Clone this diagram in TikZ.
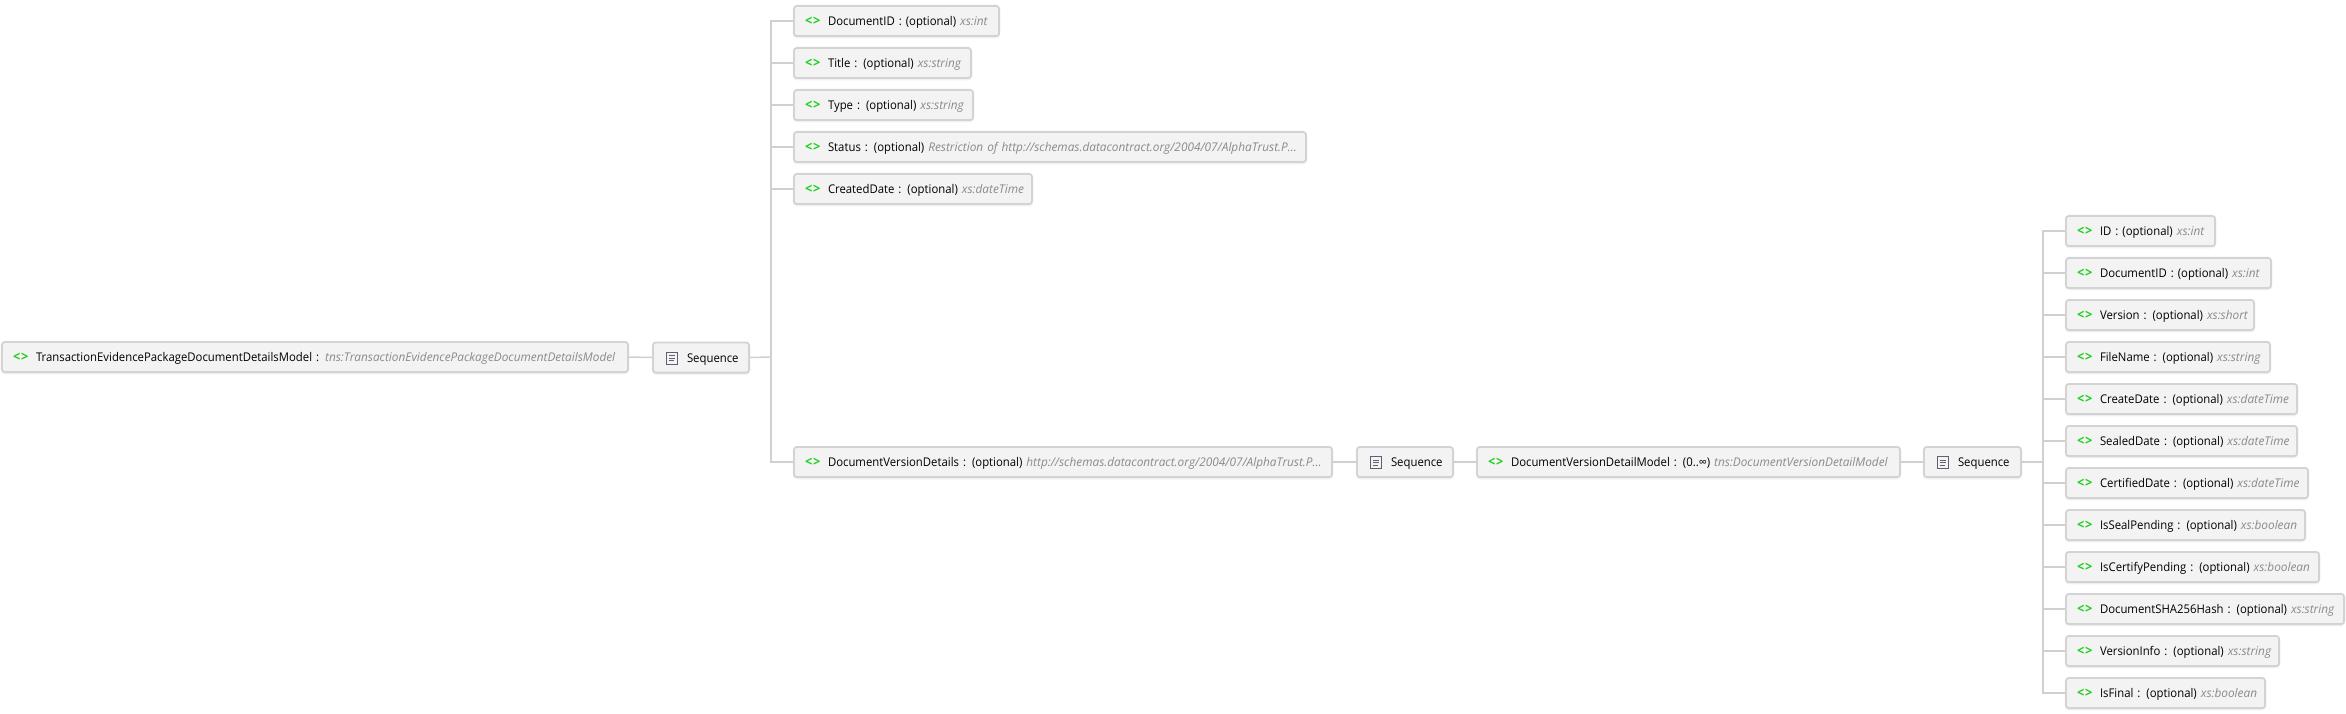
\documentclass[tikz,border=0pt]{standalone}
\usepackage{fontspec}
\setmainfont{Open Sans}[FakeStretch=0.945,WordSpace=0.75]
\newfontfamily\typefont{Open Sans}[FakeStretch=0.985,WordSpace=0.85,ItalicFeatures={FakeStretch=0.985,WordSpace=0.85}]
\usetikzlibrary{calc}
\definecolor{boxfill}{HTML}{F3F3F3}
\definecolor{boxline}{HTML}{D3D3D3}
\definecolor{conncol}{HTML}{D0D0D0}
\definecolor{icongreen}{HTML}{1ED01E}
\definecolor{typegray}{HTML}{8A8A8A}
\definecolor{iconslate}{HTML}{5F6070}
\tikzset{
  conn/.style={draw=conncol,line width=1.5pt},
  boxnode/.style={draw=boxline,fill=boxfill,line width=1.8pt,rounded corners=3pt,anchor=west,
    minimum height=30.2pt,inner xsep=11.1pt,inner ysep=0pt,align=left,
    text width=#1pt-24pt,text height=10.5pt,text depth=1.5pt,font=\fontsize{12}{14}\selectfont,
    preaction={draw=black!5,line width=2pt,transform canvas={yshift=-1.2pt}}},
  seqicon/.style={draw=iconslate,fill=boxfill,line width=0.9pt}
}
\newcommand{\icn}{\makebox[23pt][l]{\textcolor{icongreen}{\fontsize{13.5}{14}\selectfont\bfseries <\kern0.8pt>}}}
\newcommand{\eltext}[3]{\hbox{\icn #1 #2 \textcolor{typegray}{\typefont\itshape #3}}}
\newcommand{\rootext}[2]{\hbox{\icn #1 \textcolor{typegray}{\typefont\itshape #2}}}
\newcommand{\seqtext}{\hbox{\hspace{23pt}Sequence}}
\newcommand{\seqmark}[1]{%
  \draw[seqicon] ($(#1.west)+(14,-5.5)$) rectangle ($(#1.west)+(25.5,6.5)$);
  \draw[iconslate,line width=0.8pt] ($(#1.west)+(16.5,-2)$) -- ($(#1.west)+(23,-2)$)
    ($(#1.west)+(16.5,0.5)$) -- ($(#1.west)+(23,0.5)$) ($(#1.west)+(16.5,3)$) -- ($(#1.west)+(21.5,3)$);}
\begin{document}
\begin{tikzpicture}[x=1pt,y=-1pt]
\useasboundingbox (0,0) rectangle (2346,714);
% root
\node[boxnode=628] (root) at (1,357) {\rootext{TransactionEvidencePackageDocumentDetailsModel :}{tns:TransactionEvidencePackageDocumentDetailsModel}};
\node[boxnode=98] (seqa) at (652,357.5) {\seqtext};
% first level
\node[boxnode=207] (a1) at (793,21) {\eltext{DocumentID :}{(optional)}{xs:int}};
\node[boxnode=179] (a2) at (793,63) {\eltext{Title :}{(optional)}{xs:string}};
\node[boxnode=181] (a3) at (793,105) {\eltext{Type :}{(optional)}{xs:string}};
\node[boxnode=514] (a4) at (793,147) {\eltext{Status :}{(optional)}{Restriction of http://schemas.datacontract.org/2004/07/AlphaTrust.P...}};
\node[boxnode=240] (a5) at (793,189) {\eltext{CreatedDate :}{(optional)}{xs:dateTime}};
\node[boxnode=540] (a6) at (793,462) {\eltext{DocumentVersionDetails :}{(optional)}{http://schemas.datacontract.org/2004/07/AlphaTrust.P...}};
\node[boxnode=98] (seqb) at (1356,462) {\seqtext};
\node[boxnode=425] (model) at (1476,462) {\eltext{DocumentVersionDetailModel :}{(0..∞)}{tns:DocumentVersionDetailModel}};
\node[boxnode=99] (seqc) at (1923,462) {\seqtext};
% second level
\node[boxnode=151] (c1) at (2065,231) {\eltext{ID :}{(optional)}{xs:int}};
\node[boxnode=207] (c2) at (2065,273) {\eltext{DocumentID :}{(optional)}{xs:int}};
\node[boxnode=190] (c3) at (2065,315) {\eltext{Version :}{(optional)}{xs:short}};
\node[boxnode=206] (c4) at (2065,357) {\eltext{FileName :}{(optional)}{xs:string}};
\node[boxnode=233] (c5) at (2065,399) {\eltext{CreateDate :}{(optional)}{xs:dateTime}};
\node[boxnode=233] (c6) at (2065,441) {\eltext{SealedDate :}{(optional)}{xs:dateTime}};
\node[boxnode=244] (c7) at (2065,483) {\eltext{CertifiedDate :}{(optional)}{xs:dateTime}};
\node[boxnode=241] (c8) at (2065,525) {\eltext{IsSealPending :}{(optional)}{xs:boolean}};
\node[boxnode=255] (c9) at (2065,567) {\eltext{IsCertifyPending :}{(optional)}{xs:boolean}};
\node[boxnode=280] (c10) at (2065,609) {\eltext{DocumentSHA256Hash :}{(optional)}{xs:string}};
\node[boxnode=215] (c11) at (2065,651) {\eltext{VersionInfo :}{(optional)}{xs:string}};
\node[boxnode=201] (c12) at (2065,693) {\eltext{IsFinal :}{(optional)}{xs:boolean}};
% icons
\seqmark{seqa}\seqmark{seqb}\seqmark{seqc}
% connectors
\coordinate (busa) at (771,357);
\coordinate (busc) at (2043,462);
\draw[conn] (root.east) -- (seqa.west);
\draw[conn] (seqa.east) -- (busa);
\foreach \n in {a1,a2,a3,a4,a5,a6} \draw[conn] (busa) |- (\n.west);
\draw[conn] (a6.east) -- (seqb.west);
\draw[conn] (seqb.east) -- (model.west);
\draw[conn] (model.east) -- (seqc.west);
\draw[conn] (seqc.east) -- (busc);
\foreach \n in {c1,c2,c3,c4,c5,c6,c7,c8,c9,c10,c11,c12} \draw[conn] (busc) |- (\n.west);
\end{tikzpicture}
\end{document}
